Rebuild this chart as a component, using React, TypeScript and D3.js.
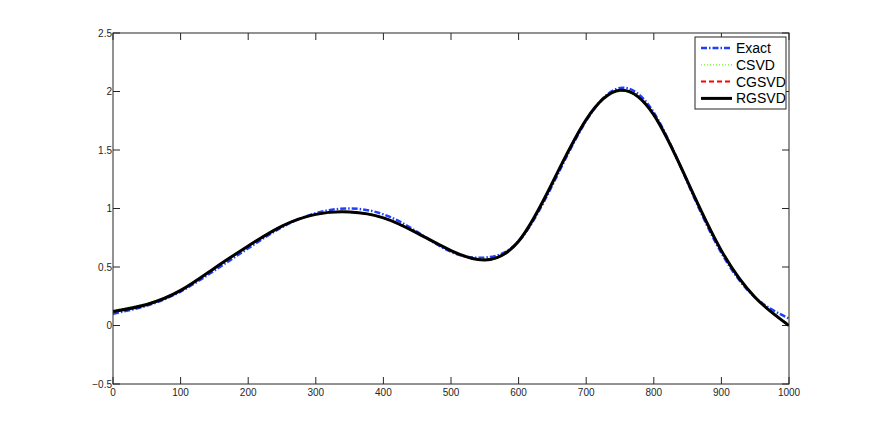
import React from "react";
import * as d3 from "d3";

// data (every 50 units along x)
const xs = [0, 50, 100, 150, 200, 250, 300, 350, 400, 450, 500, 550, 600, 650, 700, 750, 800, 850, 900, 950, 1000];
const exact = [0.1, 0.17, 0.29, 0.47, 0.66, 0.84, 0.96, 1.0, 0.95, 0.8, 0.63, 0.58, 0.72, 1.2, 1.75, 2.03, 1.82, 1.22, 0.62, 0.24, 0.06];
const csvd = [0.13, 0.19, 0.3, 0.49, 0.68, 0.85, 0.95, 0.97, 0.92, 0.79, 0.64, 0.57, 0.72, 1.22, 1.76, 2.0, 1.8, 1.24, 0.65, 0.25, 0.01];
const cgsvd = [0.12, 0.18, 0.3, 0.49, 0.68, 0.85, 0.95, 0.97, 0.92, 0.79, 0.64, 0.56, 0.72, 1.22, 1.76, 2.01, 1.8, 1.23, 0.64, 0.24, 0.0];
const rgsvd = [0.12, 0.18, 0.3, 0.49, 0.68, 0.85, 0.95, 0.97, 0.92, 0.79, 0.64, 0.56, 0.72, 1.22, 1.76, 2.01, 1.8, 1.23, 0.64, 0.24, 0.0];
const xTicks = [0, 100, 200, 300, 400, 500, 600, 700, 800, 900, 1000];
const yTicks = [-0.5, 0, 0.5, 1, 1.5, 2, 2.5];

const series = [
  { name: "Exact", values: exact, color: "#1f3fff", width: 2.5, dash: "6,2,1.5,2" },
  { name: "CSVD", values: csvd, color: "#7fff3f", width: 1.5, dash: "1,2" },
  { name: "CGSVD", values: cgsvd, color: "#ff0000", width: 2, dash: "5,3" },
  { name: "RGSVD", values: rgsvd, color: "#000000", width: 3, dash: null },
];

const W = 872;
const H = 433;
const margin = { left: 113, top: 33, right: 83, bottom: 49 };

const App = () => {
  const x = d3.scaleLinear().domain([0, 1000]).range([margin.left, W - margin.right]);
  const y = d3.scaleLinear().domain([-0.5, 2.5]).range([H - margin.bottom, margin.top]);

  const line = d3
    .line<number>()
    .x((d, i) => x(xs[i]))
    .y((d) => y(d))
    .curve(d3.curveNatural);

  const x0 = x(0), x1 = x(1000), y0 = y(-0.5), y1 = y(2.5);
  const tick = 7;
  const font = "'Liberation Sans', Arial, Helvetica, sans-serif";

  // legend
  const lg = { x: 695, y: 37, w: 91, h: 72 };

  return (
    <div style={{ position: "absolute", left: 0, top: 0 }}>
      <svg width={W} height={H} style={{ display: "block", background: "#fff" }}>
        <defs>
          <clipPath id="plot">
            <rect x={x0} y={y1} width={x1 - x0} height={y0 - y1} />
          </clipPath>
        </defs>

        {/* ticks */}
        <g stroke="#262626" strokeWidth={1}>
          {xTicks.map((t) => (
            <g key={"xt" + t}>
              <line x1={x(t)} x2={x(t)} y1={y0} y2={y0 - tick} />
              <line x1={x(t)} x2={x(t)} y1={y1} y2={y1 + tick} />
            </g>
          ))}
          {yTicks.map((t) => (
            <g key={"yt" + t}>
              <line x1={x0} x2={x0 + tick} y1={y(t)} y2={y(t)} />
              <line x1={x1} x2={x1 - tick} y1={y(t)} y2={y(t)} />
            </g>
          ))}
        </g>

        {/* lines */}
        <g clipPath="url(#plot)" fill="none">
          {series.map((s) => (
            <path
              key={s.name}
              d={line(s.values) || ""}
              stroke={s.color}
              strokeWidth={s.width}
              strokeDasharray={s.dash || undefined}
            />
          ))}
        </g>

        {/* box */}
        <rect x={x0} y={y1} width={x1 - x0} height={y0 - y1} fill="none" stroke="#262626" strokeWidth={1} />

        {/* tick labels */}
        <g fontFamily={font} fontSize={10} fill="#262626">
          {xTicks.map((t) => (
            <text key={"xl" + t} x={x(t)} y={y0 + 12} textAnchor="middle">
              {t}
            </text>
          ))}
          {yTicks.map((t) => (
            <text key={"yl" + t} x={x0 - 1} y={y(t) + 3.5} textAnchor="end">
              {t === -0.5 ? "\u22120.5" : String(t)}
            </text>
          ))}
        </g>

        {/* legend */}
        <rect x={lg.x} y={lg.y} width={lg.w} height={lg.h} fill="#fff" stroke="#262626" strokeWidth={1} />
        {series.map((s, i) => {
          const ly = lg.y + 11 + i * 16.8;
          return (
            <g key={"lg" + s.name}>
              <line
                x1={lg.x + 6}
                x2={lg.x + 37}
                y1={ly}
                y2={ly}
                stroke={s.color}
                strokeWidth={s.width}
                strokeDasharray={s.dash || undefined}
              />
              <text x={lg.x + 41} y={ly + 5} fontFamily={font} fontSize={14} fill="#000">
                {s.name}
              </text>
            </g>
          );
        })}
      </svg>
    </div>
  );
};

export default App;
